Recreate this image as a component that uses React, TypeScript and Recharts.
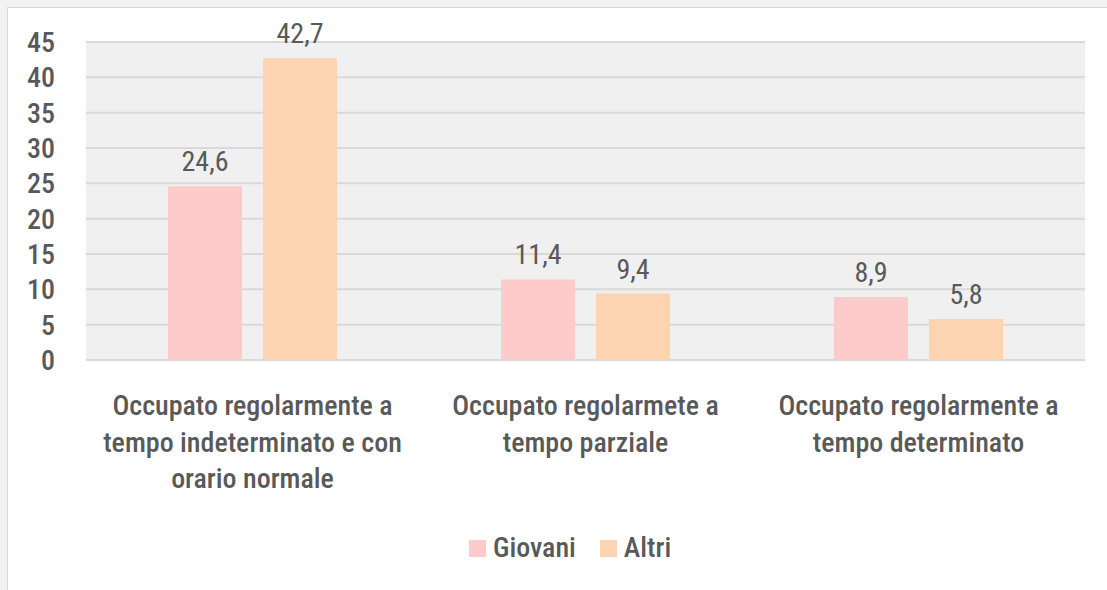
import React from 'react';
import { BarChart, Bar, XAxis, YAxis, CartesianGrid, Legend, LabelList } from 'recharts';

const categories = [
  'Occupato regolarmente a tempo indeterminato e con orario normale',
  'Occupato regolarmete a tempo parziale',
  'Occupato regolarmente a tempo determinato',
];
const giovani = [24.6, 11.4, 8.9];
const altri = [42.7, 9.4, 5.8];
const yTicks = [0, 5, 10, 15, 20, 25, 30, 35, 40, 45];
const seriesNames = ['Giovani', 'Altri'];

const data = categories.map((name, i) => ({ name, Giovani: giovani[i], Altri: altri[i] }));

const FONT = "'Roboto Condensed', 'Liberation Sans', sans-serif";
const TEXT = '#595959';
const PINK = '#ffcaca';
const PEACH = '#fcd4b2';
const COLORS: Record<string, string> = { Giovani: PINK, Altri: PEACH };

function wrap(text: string, maxChars: number): string[] {
  const words = text.split(' ');
  const lines: string[] = [];
  let cur = '';
  for (const w of words) {
    const next = cur ? cur + ' ' + w : w;
    if (next.length > maxChars && cur) {
      lines.push(cur);
      cur = w;
    } else cur = next;
  }
  if (cur) lines.push(cur);
  return lines;
}

const CategoryTick = (props: any) => {
  const { x, y, payload } = props;
  const lines = wrap(String(payload.value), 26);
  return (
    <text x={x} y={y} textAnchor="middle" fill={TEXT} fontFamily={FONT} fontWeight={500} fontSize={28}>
      {lines.map((l, i) => (
        <tspan key={i} x={x} y={y + 55 + i * 36.5}>{l}</tspan>
      ))}
    </text>
  );
};

const renderLegend = () => (
  <div style={{ display: 'flex', alignItems: 'center', fontFamily: FONT, fontWeight: 500, fontSize: 28, color: TEXT, lineHeight: '34px' }}>
    {seriesNames.map((n, i) => (
      <div key={n} style={{ display: 'flex', alignItems: 'center', marginRight: i === 0 ? 24 : 0 }}>
        <div style={{ width: 17, height: 17, background: COLORS[n], marginRight: 7 }} />
        <span>{n}</span>
      </div>
    ))}
  </div>
);

const fmt = (v: any) => String(v).replace('.', ',');

export default function App() {
  return (
    <div style={{ position: 'absolute', left: 0, top: 0, width: 1107, height: 590, background: '#f2f2f2', overflow: 'hidden' }}>
      <div style={{ position: 'absolute', left: 7, top: 7, right: 0, bottom: 0, background: '#ffffff', borderLeft: '1px solid #d8d8d8', borderTop: '1px solid #d8d8d8' }} />
      <div style={{ position: 'absolute', left: 0, top: 0 }}>
        <BarChart
          width={1107}
          height={590}
          data={data}
          margin={{ top: 42, right: 22, left: 0, bottom: 0 }}
          barSize={74}
          barGap={21}
        >
          <CartesianGrid vertical={false} stroke="#d9d9d9" strokeWidth={2} fill="#f0f0f0" />
          <YAxis
            domain={[0, 45]}
            ticks={yTicks}
            width={86}
            axisLine={false}
            tickLine={false}
            tickSize={0}
            tickMargin={31}
            interval={0}
            tick={{ fill: TEXT, fontFamily: FONT, fontWeight: 500, fontSize: 28 }}
          />
          <XAxis
            dataKey="name"
            height={230}
            axisLine={false}
            tickLine={false}
            tickSize={0}
            tickMargin={0}
            interval={0}
            tick={<CategoryTick />}
          />
          <Legend
            layout="horizontal"
            verticalAlign="middle"
            align="center"
            content={renderLegend}
            wrapperStyle={{ position: 'absolute', left: 469, top: 531, width: 'auto' }}
          />
          <Bar dataKey="Giovani" fill={PINK} isAnimationActive={false}>
            <LabelList dataKey="Giovani" position="top" offset={15} fill={TEXT} fontFamily={FONT} fontSize={28} formatter={fmt} />
          </Bar>
          <Bar dataKey="Altri" fill={PEACH} isAnimationActive={false}>
            <LabelList dataKey="Altri" position="top" offset={15} fill={TEXT} fontFamily={FONT} fontSize={28} formatter={fmt} />
          </Bar>
        </BarChart>
      </div>
    </div>
  );
}
